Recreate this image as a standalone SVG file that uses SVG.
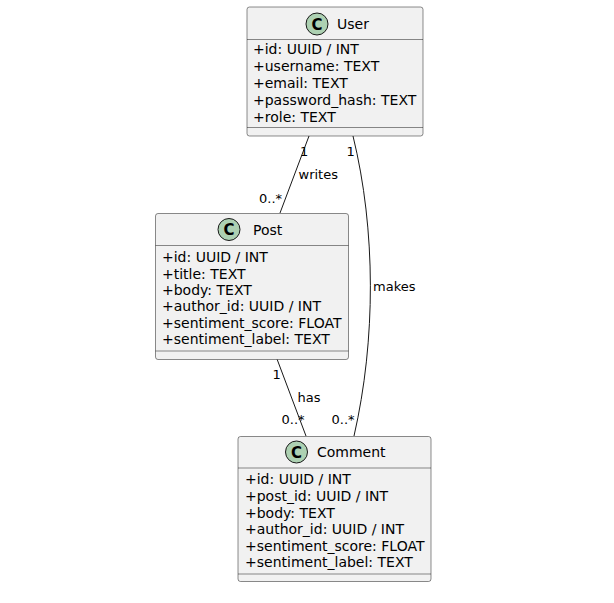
<svg xmlns="http://www.w3.org/2000/svg" width="614" height="603" viewBox="0 0 614 603">
<style>
.box{fill:#F1F1F1;stroke:#181818;stroke-width:0.5}
.div{stroke:#181818;stroke-width:0.5}
.circ{fill:#ADD1B2;stroke:#181818;stroke-width:1}
.cl{font-family:"DejaVu Sans",sans-serif;font-size:14px;fill:#000}
.c{font-family:"DejaVu Sans",sans-serif;font-size:15px;font-weight:bold;fill:#000;text-anchor:middle}
.at{font-family:"DejaVu Sans",sans-serif;font-size:14px;fill:#000}
.lb{font-family:"DejaVu Sans",sans-serif;font-size:13px;fill:#000}
.ln{fill:none;stroke:#181818;stroke-width:1}
</style>
<rect width="614" height="603" fill="#FFFFFF"/>
<g id="connectors">
<path class="ln" d="M309,136 L280,213"/>
<path class="ln" d="M353,136 C376,230 376,340 354,436"/>
<path class="ln" d="M277,359 L306,436"/>
<text class="lb" x="300" y="156">1</text>
<text class="lb" x="298.5" y="179">writes</text>
<text class="lb" x="259" y="202.5">0..*</text>
<text class="lb" x="346.5" y="156">1</text>
<text class="lb" x="373" y="291">makes</text>
<text class="lb" x="331.5" y="424">0..*</text>
<text class="lb" x="272.5" y="379">1</text>
<text class="lb" x="297.5" y="401.5">has</text>
<text class="lb" x="281.5" y="424">0..*</text>
</g>
<g id="User">
<rect class="box" x="247" y="7" width="176" height="129" rx="2.5"/>
<line class="div" x1="247" y1="39.5" x2="423" y2="39.5"/>
<line class="div" x1="247" y1="127.5" x2="423" y2="127.5"/>
<circle class="circ" cx="317" cy="24" r="11"/>
<text class="c" x="317" y="29.5">C</text>
<text class="cl" x="337" y="29">User</text>
<text class="at" x="253" y="54">+id: UUID / INT</text>
<text class="at" x="253" y="71">+username: TEXT</text>
<text class="at" x="253" y="88">+email: TEXT</text>
<text class="at" x="253" y="105">+password_hash: TEXT</text>
<text class="at" x="253" y="121.5">+role: TEXT</text>
</g>
<g id="Post">
<rect class="box" x="155.5" y="213.5" width="193" height="146" rx="2.5"/>
<line class="div" x1="155.5" y1="245.5" x2="348.5" y2="245.5"/>
<line class="div" x1="155.5" y1="351" x2="348.5" y2="351"/>
<circle class="circ" cx="229" cy="229.5" r="11"/>
<text class="c" x="229" y="235">C</text>
<text class="cl" x="253" y="234.5">Post</text>
<text class="at" x="162" y="262">+id: UUID / INT</text>
<text class="at" x="162" y="278.5">+title: TEXT</text>
<text class="at" x="162" y="295">+body: TEXT</text>
<text class="at" x="162" y="311">+author_id: UUID / INT</text>
<text class="at" x="162" y="327.5">+sentiment_score: FLOAT</text>
<text class="at" x="162" y="344">+sentiment_label: TEXT</text>
</g>
<g id="Comment">
<rect class="box" x="238" y="436.5" width="193" height="145" rx="2.5"/>
<line class="div" x1="238" y1="468" x2="431" y2="468"/>
<line class="div" x1="238" y1="574" x2="431" y2="574"/>
<circle class="circ" cx="296.5" cy="452" r="11"/>
<text class="c" x="296.5" y="457.5">C</text>
<text class="cl" x="317" y="457">Comment</text>
<text class="at" x="245" y="484">+id: UUID / INT</text>
<text class="at" x="245" y="501">+post_id: UUID / INT</text>
<text class="at" x="245" y="518">+body: TEXT</text>
<text class="at" x="245" y="534">+author_id: UUID / INT</text>
<text class="at" x="245" y="550.5">+sentiment_score: FLOAT</text>
<text class="at" x="245" y="567">+sentiment_label: TEXT</text>
</g>
</svg>
